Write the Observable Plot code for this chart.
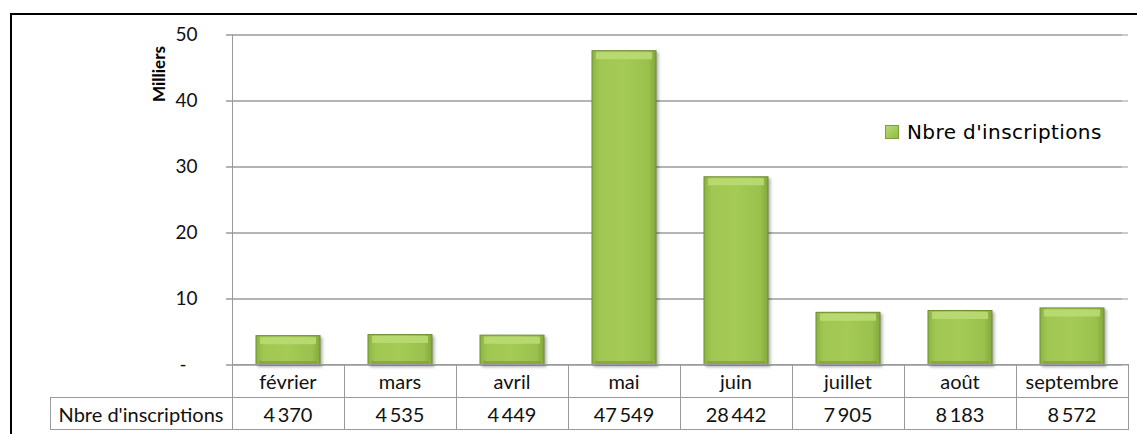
<!DOCTYPE html>
<html><head><meta charset="utf-8">
<script src="https://cdn.jsdelivr.net/npm/d3@7"></script>
<script src="https://cdn.jsdelivr.net/npm/@observablehq/plot@0.6"></script>
<style>
body{margin:0;background:#fff;}
#wrap{position:relative;width:1137px;height:434px;overflow:hidden;font-family:Lato,"Noto Sans",sans-serif;background:#fff;}
#wrap svg{position:absolute;left:0;top:0;}
#frame{position:absolute;left:10px;top:13px;width:2000px;height:2000px;border-left:2px solid #000;border-top:2px solid #000;pointer-events:none;}
#tbl{position:absolute;border-collapse:collapse;table-layout:fixed;font-size:20px;color:#111;}
#tbl td{border:1px solid #9a9a9a;text-align:center;padding:0;white-space:nowrap;overflow:visible;}
#tbl tr.r1 td{height:32px;}
#tbl tr.r2 td{height:31px;}
#tbl tr.r1 td.blank{border-top:none;border-left:none;}
#legend{position:absolute;left:885px;top:120px;display:flex;align-items:center;font-family:"DejaVu Sans",sans-serif;font-size:20px;letter-spacing:0.4px;color:#000;}
#legend .sw{width:14px;height:14px;margin-right:8px;background:linear-gradient(135deg,#b9db72,#93bb45);border:1px solid #7e9e3c;box-sizing:border-box;}
</style>
</head><body>
<div id="wrap"></div>
<script>
const months = ["février","mars","avril","mai","juin","juillet","août","septembre"];
const values = [4370, 4535, 4449, 47549, 28442, 7905, 8183, 8572];
const seriesName = "Nbre d'inscriptions";
const yTicks = [0, 10, 20, 30, 40, 50];
const yUnitLabel = "Milliers";

const data = months.map((m, i) => ({month: m, value: values[i], k: values[i] / 1000}));
const fr = d3.formatLocale({decimal: ",", thousands: "\u2009", grouping: [3], currency: ["", " €"]});
const fmt = fr.format(",d");

const chart = Plot.plot({
  width: 1137, height: 370,
  marginLeft: 232, marginRight: 9, marginTop: 34.5, marginBottom: 5.5,
  style: {fontFamily: "Lato, 'Noto Sans', sans-serif", fontSize: "19px", color: "#000", background: "transparent", overflow: "visible"},
  x: {domain: months, paddingInner: 0.43, paddingOuter: 0.215, axis: null},
  y: {domain: [0, 50], axis: null},
  marks: [
    Plot.gridY(yTicks, {stroke: "#9a9a9a", strokeOpacity: 1, strokeWidth: 1}),
    Plot.tickY(yTicks, {y: d => d, stroke: "#9a9a9a", dx: -6}),
    Plot.axisY(yTicks, {tickSize: 6, tickPadding: 29, stroke: "#9a9a9a", fill: "#111",
      tickFormat: d => d === 0 ? "-\u2007" : String(d), label: null}),
    Plot.frame({anchor: "left", stroke: "#9a9a9a"}),
    Plot.barY(data, {x: "month", y: "k", fill: "url(#barGrad)", stroke: "#6f8d31", strokeWidth: 1}),
    Plot.tickY(data, {x: "month", y: "k", stroke: "#bcdc76", strokeWidth: 7, dy: 4.5, insetLeft: 4, insetRight: 4, strokeOpacity: 0.85}),
    Plot.tickY(data, {x: "month", y: 0, stroke: "#83a23b", strokeWidth: 3, dy: -2.5, insetLeft: 3, insetRight: 3, strokeOpacity: 0.8}),
    Plot.text([yUnitLabel], {frameAnchor: "top-left", text: d => d, rotate: -90, dx: -80, dy: 39,
      fontWeight: "bold", fontSize: 17, textAnchor: "middle", fill: "#000"})
  ]
});

// gradient defs
const svg = d3.select(chart);
const defs = svg.insert("defs", ":first-child");
const g = defs.append("linearGradient").attr("id", "barGrad").attr("x1", 0).attr("x2", 1).attr("y1", 0).attr("y2", 0);
g.append("stop").attr("offset", "0%").attr("stop-color", "#8db242");
g.append("stop").attr("offset", "12%").attr("stop-color", "#a0c752");
g.append("stop").attr("offset", "50%").attr("stop-color", "#a5cb56");
g.append("stop").attr("offset", "88%").attr("stop-color", "#9ac04d");
g.append("stop").attr("offset", "100%").attr("stop-color", "#84a73b");
svg.selectAll("g[aria-label='bar']").style("filter", "drop-shadow(2px 2px 1.5px rgba(0,0,0,0.3))");

const wrap = document.getElementById("wrap");
wrap.appendChild(chart);

// data table aligned to the x band scale
const xs = chart.scale("x");
const step = xs.step !== undefined ? xs.step : (1137 - 232 - 9) / months.length;
const firstLeft = xs.apply(months[0]) - (step - xs.bandwidth) / 2;
const yZero = chart.scale("y").apply(0);
const labelLeft = 50;

const table = d3.select(wrap).append("table").attr("id", "tbl")
  .style("left", (labelLeft - 0.5) + "px").style("top", (yZero - 0.5) + "px")
  .style("width", (firstLeft - labelLeft + step * months.length) + "px");
const cg = table.append("colgroup");
cg.append("col").style("width", (firstLeft - labelLeft) + "px");
months.forEach(() => cg.append("col").style("width", step + "px"));
const r1 = table.append("tr").attr("class", "r1");
r1.append("td").attr("class", "blank");
months.forEach(m => r1.append("td").text(m));
const r2 = table.append("tr").attr("class", "r2");
r2.append("td").text(seriesName);
values.forEach(v => r2.append("td").text(fmt(v)));

// legend
const lg = d3.select(wrap).append("div").attr("id", "legend");
lg.append("div").attr("class", "sw");
lg.append("span").text(seriesName);

d3.select(wrap).append("div").attr("id", "frame");
</script>
</body></html>
